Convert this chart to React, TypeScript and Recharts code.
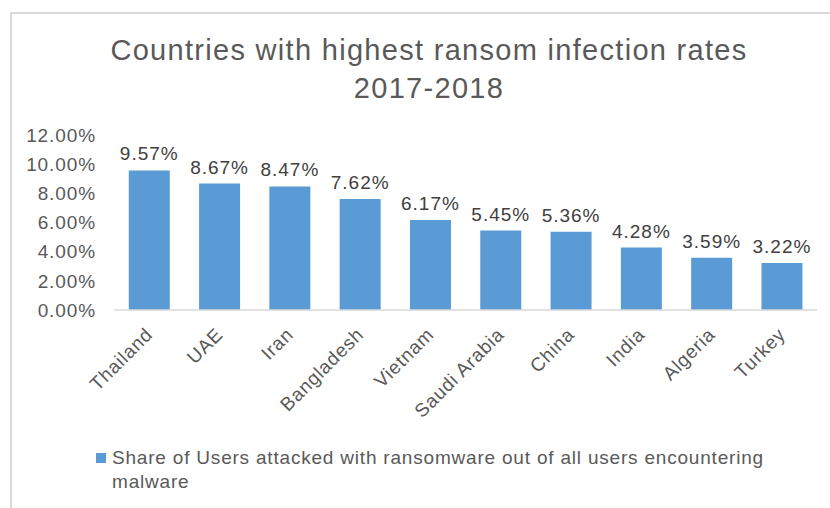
import { BarChart, Bar, XAxis, YAxis, Legend, LabelList } from "recharts";

const countries = [
  "Thailand",
  "UAE",
  "Iran",
  "Bangladesh",
  "Vietnam",
  "Saudi Arabia",
  "China",
  "India",
  "Algeria",
  "Turkey",
];
const shares = [9.57, 8.67, 8.47, 7.62, 6.17, 5.45, 5.36, 4.28, 3.59, 3.22];
const yTicks = [0, 2, 4, 6, 8, 10, 12];
const seriesName =
  "Share of Users attacked with ransomware out of all users encountering malware";

const data = countries.map((c, i) => ({ country: c, share: shares[i] }));

const FONT = "'Liberation Sans', Arial, sans-serif";
const GREY = "#595959";
const BLUE = "#5B9BD5";

function CountryTick(props: any) {
  const { x, y, payload } = props;
  const ax = x;
  const ay = y + 13;
  return (
    <text
      x={ax}
      y={ay}
      dy="0.35em"
      textAnchor="end"
      fontSize={19}
      fontFamily={FONT}
      letterSpacing={0.8}
      fill={GREY}
      transform={`rotate(-45, ${ax}, ${ay})`}
    >
      {payload.value}
    </text>
  );
}

function LegendBox() {
  return (
    <div
      style={{
        display: "flex",
        alignItems: "flex-start",
        fontFamily: FONT,
        fontSize: 19,
        letterSpacing: 0.8,
        color: GREY,
        lineHeight: "24px",
      }}
    >
      <span
        style={{
          display: "inline-block",
          width: 10,
          height: 10,
          background: BLUE,
          marginTop: 7,
          marginRight: 6,
          flex: "none",
        }}
      />
      <span style={{ width: 670 }}>{seriesName}</span>
    </div>
  );
}

export default function App() {
  return (
    <div
      style={{
        position: "absolute",
        left: 0,
        top: 0,
        width: 830,
        height: 508,
        background: "#fff",
        overflow: "hidden",
      }}
    >
      {/* frame */}
      <div
        style={{
          position: "absolute",
          left: 10,
          top: 12,
          width: 840,
          height: 520,
          borderTop: "2px solid #d9d9d9",
          borderLeft: "2px solid #d9d9d9",
        }}
      />
      <div
        style={{
          position: "absolute",
          left: 0,
          top: 31,
          width: 858,
          textAlign: "center",
          fontFamily: FONT,
          fontSize: 29,
          letterSpacing: 1.3,
          lineHeight: "38px",
          color: GREY,
        }}
      >
        Countries with highest ransom infection rates
        <br />
        2017-2018
      </div>

      <div style={{ position: "absolute", left: 0, top: 0 }}>
        <BarChart
          width={830}
          height={508}
          data={data}
          margin={{ top: 135, right: 13, bottom: 138, left: 0 }}
          barCategoryGap="21%"
        >
          <XAxis
            dataKey="country"
            interval={0}
            height={60}
            tickLine={false}
            axisLine={{ stroke: "#d9d9d9", strokeWidth: 1.5 }}
            tick={<CountryTick />}
          />
          <YAxis
            width={114}
            domain={[0, 12]}
            ticks={yTicks}
            axisLine={false}
            tickLine={false}
            tickSize={0}
            tickMargin={18}
            tickFormatter={(v: number) => v.toFixed(2) + "%"}
            tick={{ fontSize: 19, fontFamily: FONT, fill: GREY, letterSpacing: 0.9 }}
          />
          <Legend
            layout="horizontal"
            verticalAlign="middle"
            align="center"
            wrapperStyle={{ top: 446, left: 96, width: 720 }}
            content={<LegendBox />}
          />
          <Bar
            dataKey="share"
            name={seriesName}
            fill={BLUE}
            isAnimationActive={false}
          >
            <LabelList
              dataKey="share"
              position="top"
              offset={10}
              formatter={(v: any) => Number(v).toFixed(2) + "%"}
              style={{ fontSize: 19, fontFamily: FONT, fill: "#404040", letterSpacing: 1 }}
            />
          </Bar>
        </BarChart>
      </div>
    </div>
  );
}
